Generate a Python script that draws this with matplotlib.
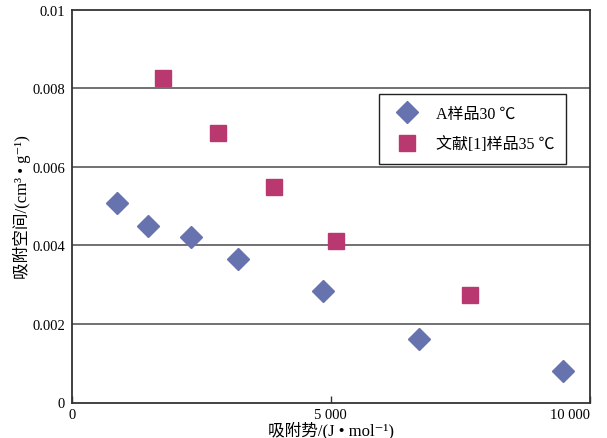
import matplotlib
matplotlib.use("Agg")
import matplotlib.pyplot as plt

plt.rcParams['font.family'] = ['Liberation Serif', 'Noto Sans CJK SC', 'DejaVu Sans']

# Data
a_x = [875, 1474, 2294, 3213, 4844, 6711, 9482]
a_y = [0.00507, 0.00450, 0.00422, 0.00365, 0.00284, 0.00162, 0.00080]
lit_x = [1758, 2821, 3909, 5095, 7691]
lit_y = [0.00825, 0.00687, 0.00549, 0.00412, 0.00274]

x_ticks = [0, 5000, 10000]
x_tick_labels = ['0', '5 000', '10 000']
y_ticks = [0, 0.002, 0.004, 0.006, 0.008, 0.01]
y_tick_labels = ['0', '0.002', '0.004', '0.006', '0.008', '0.01']

series_a_label = 'A样品30 ℃'
series_lit_label = '文献[1]样品35 ℃'
x_label = '吸附势/(J • mol⁻¹)'
y_label = '吸附空间/(cm³ • g⁻¹)'

fig = plt.figure(figsize=(6.07, 4.39), dpi=100)
ax = fig.add_axes([72/607, 1 - 403.5/439, 517.5/607, 393/439])

ax.set_xlim(0, 10000)
ax.set_ylim(0, 0.01)

for yv in y_ticks[1:-1]:
    ax.axhline(yv, color='#666666', lw=1.3, zorder=1)

ax.plot(a_x, a_y, linestyle='none', marker='D', markersize=11.2,
        color='#6673AF', markeredgecolor='#6673AF', label=series_a_label, zorder=3)
ax.plot(lit_x, lit_y, linestyle='none', marker='s', markersize=12,
        color='#B8386F', markeredgecolor='#B8386F', label=series_lit_label, zorder=3)

ax.set_xticks(x_ticks)
ax.set_xticklabels(x_tick_labels, fontsize=10.5)
ax.set_yticks(y_ticks)
ax.set_yticklabels(y_tick_labels, fontsize=10.5)
ax.tick_params(axis='x', direction='in', length=5, width=1, pad=4, color='#333333')
ax.tick_params(axis='y', length=0, pad=5)
lbls = ax.get_xticklabels()
lbls[-1].set_ha('right')

for s in ax.spines.values():
    s.set_color('#333333')
    s.set_linewidth(1.3)

ax.set_xlabel(x_label, fontsize=12, labelpad=0)
ax.set_ylabel(y_label, fontsize=12, labelpad=1)

leg = ax.legend(loc='upper right', bbox_to_anchor=(0.9546, 0.785), fontsize=11.5,
                frameon=True, fancybox=False, edgecolor='#222222', framealpha=1,
                borderpad=0.75, labelspacing=0.9, handletextpad=0.8, borderaxespad=0)
leg.get_frame().set_linewidth(1.0)

fig.savefig('out.png', dpi=100)
